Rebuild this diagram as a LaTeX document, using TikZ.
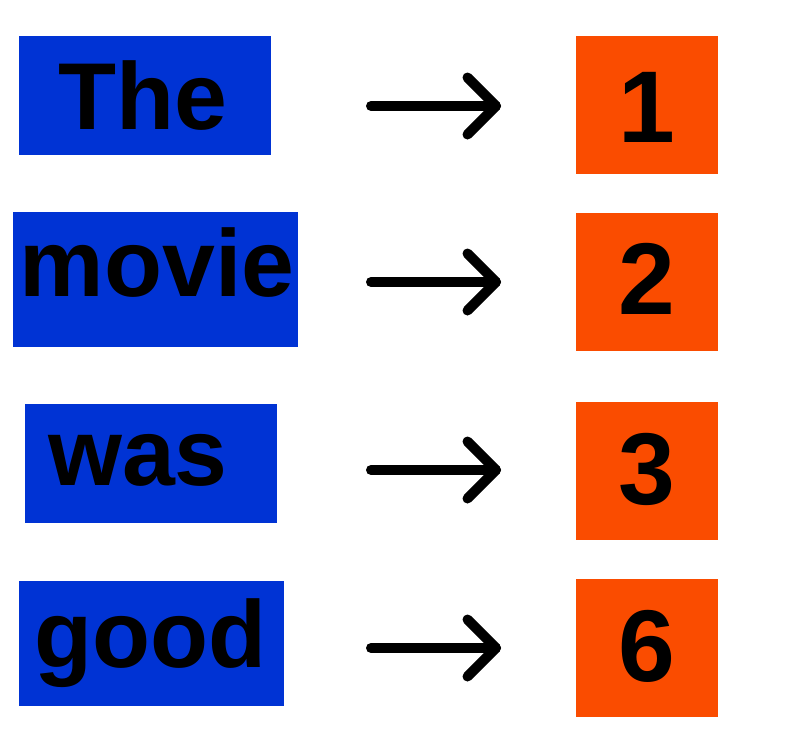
\documentclass[tikz,border=0pt]{standalone}
\usepackage{fontspec}
\usetikzlibrary{calc}
\setmainfont{Liberation Sans}
\definecolor{wordblue}{RGB}{0,51,212}
\definecolor{numorange}{RGB}{250,76,0}
\begin{document}
\begin{tikzpicture}[x=1pt,y=-1pt,
  wordbox/.style={fill=wordblue,draw=none,inner sep=0pt,anchor=north west},
  numbox/.style={fill=numorange,draw=none,inner sep=0pt,anchor=north west,minimum width=142pt,minimum height=138pt},
  wordtext/.style={inner sep=0pt,anchor=base,font=\fontsize{95}{95}\selectfont\bfseries},
  numtext/.style={inner sep=0pt,anchor=base,font=\fontsize{102}{102}\selectfont\bfseries},
  arrowline/.style={draw=black,line width=10pt,line cap=round,line join=round}]
\useasboundingbox (0,0) rectangle (803,747);
% word boxes
\node[wordbox,minimum width=252pt,minimum height=119pt] (b1) at (19,36) {};
\node[wordbox,minimum width=285pt,minimum height=135pt] (b2) at (13,212) {};
\node[wordbox,minimum width=252pt,minimum height=119pt] (b3) at (25,404) {};
\node[wordbox,minimum width=265pt,minimum height=125pt] (b4) at (19,581) {};
\node[wordtext] (w1) at (142.5,129) {The};
\node[wordtext] (w2) at (157,296) {movie};
\node[wordtext] (w3) at (138,485) {was};
\node[wordtext] (w4) at (150.5,667) {good};
% number boxes
\node[numbox] (n1) at (576,36) {};
\node[numbox] (n2) at (576,213) {};
\node[numbox] (n3) at (576,402) {};
\node[numbox] (n4) at (576,579) {};
\node[numtext] (d1) at (647,142) {1};
\node[numtext] (d2) at (647,314) {2};
\node[numtext] (d3) at (647,504) {3};
\node[numtext] (d4) at (647,681) {6};
% arrows
\foreach \i/\y in {1/106,2/282,3/470,4/648}{
  \coordinate (s\i) at (371,\y);
  \coordinate (e\i) at (496,\y);
  \draw[arrowline] (s\i) -- (e\i);
  \draw[arrowline] ($(e\i)+(-28.5,-28.5)$) -- (e\i) -- ($(e\i)+(-28.5,28.5)$);
}
\end{tikzpicture}
\end{document}
